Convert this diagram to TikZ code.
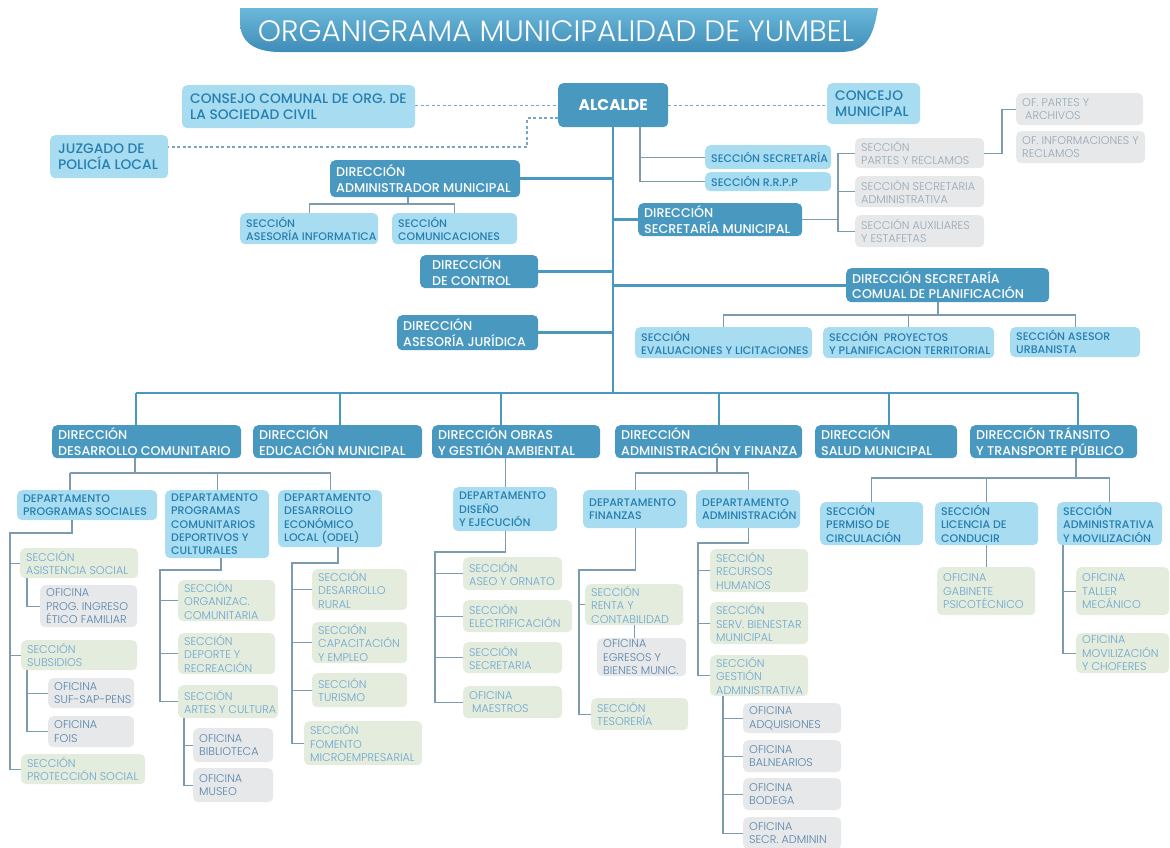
\documentclass[tikz,border=0pt]{standalone}
\usepackage{fontspec}
\setmainfont{Poppins}
\IfFontExistsTF{Poppins Light}{\newfontfamily\flight{Poppins Light}}{\newfontfamily\flight{Poppins}}
\IfFontExistsTF{Poppins Medium}{\newfontfamily\fmed{Poppins Medium}}{\newfontfamily\fmed{Poppins}}
\definecolor{dirblue}{RGB}{72,152,192}
\definecolor{lblue}{RGB}{168,220,240}
\definecolor{ltxt}{RGB}{38,126,176}
\definecolor{gfill}{RGB}{228,236,221}
\definecolor{gtxt}{RGB}{108,166,206}
\definecolor{grfill}{RGB}{230,232,234}
\definecolor{grtxt}{RGB}{150,168,182}
\definecolor{oftxt}{RGB}{88,132,170}
\definecolor{linec}{RGB}{125,155,175}
\definecolor{dashc}{RGB}{120,165,195}
\definecolor{bantop}{RGB}{108,184,218}
\definecolor{banbot}{RGB}{62,140,184}
\tikzset{
 boxbase/.style={inner sep=0pt, rounded corners=5pt, draw=none},
 dbox/.style={boxbase, fill=dirblue},
 dboxtxt/.style={inner sep=0pt, align=left, text=white, font=\fmed\fontsize{12.7}{15.5}\selectfont},
 tsec/.style={boxbase, fill=lblue},
 tsectxt/.style={inner sep=0pt, align=left, text=ltxt, xshift=2pt, font=\fmed\fontsize{13.8}{16}\selectfont},
 lsec/.style={boxbase, fill=lblue},
 lsectxt/.style={inner sep=0pt, align=left, text=ltxt, font=\fmed\fontsize{11}{13.3}\selectfont},
 gsec/.style={boxbase, fill=gfill},
 gsectxt/.style={inner sep=0pt, align=left, text=gtxt, font=\flight\fontsize{11.2}{13.3}\selectfont},
 gtop/.style={boxbase, fill=grfill},
 gtoptxt/.style={inner sep=0pt, align=left, text=grtxt, font=\flight\fontsize{11.2}{13.3}\selectfont},
 gof/.style={boxbase, fill=grfill},
 goftxt/.style={inner sep=0pt, align=left, text=oftxt, font=\flight\fontsize{11.2}{13.3}\selectfont},
 trunk/.style={draw=dirblue, line width=2.6pt},
 conn/.style={draw=linec, line width=1.1pt},
 dashln/.style={draw=dashc, line width=1.1pt, dash pattern=on 3pt off 2.5pt},
}
% name, x1, y1, x2, y2, style, text
\newcommand\BX[7]{%
 \pgfmathsetmacro\bxw{#4-#2}\pgfmathsetmacro\bxh{#5-#3}%
 \node[#6, anchor=north west, minimum width=\bxw pt, minimum height=\bxh pt] (#1) at (#2,#3) {};%
 \node[#6txt, anchor=west] (#1t) at ([xshift=6pt]#1.west) {#7};}
\begin{document}
\begin{tikzpicture}[x=1pt,y=-1pt]
\useasboundingbox (0,0) rectangle (1170,847);
% title banner
\shade[top color=bantop, bottom color=banbot] (240,8) -- (878,8) .. controls (873,38) and (866,52) .. (840,52) -- (280,52) .. controls (252,52) and (240,40) .. (240,22) -- cycle;
\node[text=white, font=\flight\fontsize{29.5}{32}\selectfont, inner sep=0pt] (title) at (556,31) {ORGANIGRAMA MUNICIPALIDAD DE YUMBEL};

% ---------- boxes ----------
\node[dbox, anchor=north west, minimum width=110pt, minimum height=44pt] (alc) at (558,83) {};
\node[text=white, font=\bfseries\fontsize{15.5}{18}\selectfont, inner sep=0pt] (alct) at (alc.center) {ALCALDE};
\BX{consejo}{182}{85}{415}{128}{tsec}{CONSEJO COMUNAL DE ORG. DE\\LA SOCIEDAD CIVIL}
\BX{concejo}{827}{83}{920}{124}{tsec}{CONCEJO\\MUNICIPAL}
\BX{juz}{50}{135}{168}{178}{tsec}{JUZGADO DE\\POLICÍA LOCAL}
\BX{ssec}{705}{145}{831}{169}{lsec}{SECCIÓN SECRETARÍA}
\BX{srrpp}{705}{172}{831}{191}{lsec}{SECCIÓN R.R.P.P}
\BX{dam}{330}{160}{520}{197}{dbox}{DIRECCIÓN\\ADMINISTRADOR MUNICIPAL}
\BX{sinf}{240}{213}{378}{244}{lsec}{SECCIÓN\\ASESORÍA INFORMATICA}
\BX{scom}{392}{213}{517}{244}{lsec}{SECCIÓN\\COMUNICACIONES}
\BX{dsm}{638}{203}{802}{236}{dbox}{DIRECCIÓN\\SECRETARÍA MUNICIPAL}
\BX{spart}{855}{138}{984}{168}{gtop}{SECCIÓN\\PARTES Y RECLAMOS}
\BX{ssadm}{855}{176}{984}{207}{gtop}{SECCIÓN SECRETARIA\\ADMINISTRATIVA}
\BX{saux}{855}{215}{984}{247}{gtop}{SECCIÓN AUXILIARES\\Y ESTAFETAS}
\BX{ofpa}{1016}{93}{1143}{125}{gtop}{OF. PARTES Y\\\hspace*{3pt}ARCHIVOS}
\BX{ofinf}{1016}{131}{1145}{163}{gtop}{OF. INFORMACIONES Y\\RECLAMOS}
\BX{dct}{420}{255}{538}{288}{dbox}{\hspace*{6pt}DIRECCIÓN\\\hspace*{6pt}DE CONTROL}
\BX{daj}{397}{315}{538}{350}{dbox}{DIRECCIÓN\\ASESORÍA JURÍDICA}
\BX{dscp}{846}{268}{1049}{302}{dbox}{DIRECCIÓN SECRETARÍA\\COMUAL DE PLANIFICACIÓN}
\BX{seval}{635}{327}{812}{358}{lsec}{SECCIÓN\\EVALUACIONES Y LICITACIONES}
\BX{sproy}{823}{327}{994}{358}{lsec}{SECCIÓN\ \ PROYECTOS\\Y PLANIFICACION TERRITORIAL}
\BX{surb}{1010}{327}{1140}{357}{lsec}{SECCIÓN ASESOR\\URBANISTA}

\BX{ddc}{52}{425}{241}{458}{dbox}{DIRECCIÓN\\DESARROLLO COMUNITARIO}
\BX{dem}{253}{425}{422}{458}{dbox}{DIRECCIÓN\\EDUCACIÓN MUNICIPAL}
\BX{doga}{432}{425}{600}{458}{dbox}{DIRECCIÓN OBRAS\\Y GESTIÓN AMBIENTAL}
\BX{daf}{615}{425}{802}{458}{dbox}{DIRECCIÓN\\ADMINISTRACIÓN Y FINANZA}
\BX{dsal}{815}{425}{957}{458}{dbox}{DIRECCIÓN\\SALUD MUNICIPAL}
\BX{dttp}{970}{425}{1137}{458}{dbox}{DIRECCIÓN TRÁNSITO\\Y TRANSPORTE PÚBLICO}

\BX{dps}{17}{490}{157}{520}{lsec}{DEPARTAMENTO\\PROGRAMAS SOCIALES}
\BX{dpc}{165}{490}{269}{558}{lsec}{DEPARTAMENTO\\PROGRAMAS\\COMUNITARIOS\\DEPORTIVOS Y\\CULTURALES}
\BX{dodel}{278}{490}{382}{547}{lsec}{DEPARTAMENTO\\DESARROLLO\\ECONÓMICO\\LOCAL (ODEL)}
\BX{ddis}{453}{487}{557}{531}{lsec}{DEPARTAMENTO\\DISEÑO\\Y EJECUCIÓN}
\BX{dfin}{583}{490}{687}{528}{lsec}{DEPARTAMENTO\\FINANZAS}
\BX{dadm}{696}{490}{800}{528}{lsec}{DEPARTAMENTO\\ADMINISTRACIÓN}
\BX{sperm}{820}{502}{923}{545}{lsec}{SECCIÓN\\PERMISO DE\\CIRCULACIÓN}
\BX{slic}{935}{502}{1038}{545}{lsec}{SECCIÓN\\LICENCIA DE\\CONDUCIR}
\BX{sadmv}{1057}{502}{1162}{545}{lsec}{SECCIÓN\\ADMINISTRATIVA\\Y MOVILIZACIÓN}

\BX{sasis}{20}{548}{138}{578}{gsec}{SECCIÓN\\ASISTENCIA SOCIAL}
\BX{oprog}{40}{585}{137}{627}{gof}{OFICINA\\PROG. INGRESO\\ÉTICO FAMILIAR}
\BX{ssub}{21}{640}{137}{670}{gsec}{SECCIÓN\\SUBSIDIOS}
\BX{osuf}{48}{678}{134}{708}{gof}{OFICINA\\SUF-SAP-PENS}
\BX{ofois}{48}{716}{134}{747}{gof}{OFICINA\\FOIS}
\BX{sprot}{21}{754}{145}{784}{gsec}{SECCIÓN\\PROTECCIÓN SOCIAL}
\BX{sorg}{178}{580}{275}{621}{gsec}{SECCIÓN\\ORGANIZAC.\\COMUNITARIA}
\BX{sdep}{178}{633}{275}{674}{gsec}{SECCIÓN\\DEPORTE Y\\RECREACIÓN}
\BX{sart}{178}{685}{278}{718}{gsec}{SECCIÓN\\ARTES Y CULTURA}
\BX{obib}{193}{728}{273}{762}{gof}{OFICINA\\BIBLIOTECA}
\BX{omus}{193}{768}{273}{802}{gof}{OFICINA\\MUSEO}
\BX{srur}{312}{569}{407}{610}{gsec}{SECCIÓN\\DESARROLLO\\RURAL}
\BX{scap}{312}{622}{407}{663}{gsec}{SECCIÓN\\CAPACITACIÓN\\Y EMPLEO}
\BX{stur}{312}{673}{407}{707}{gsec}{SECCIÓN\\TURISMO}
\BX{sfom}{304}{721}{422}{765}{gsec}{SECCIÓN\\FOMENTO\\MICROEMPRESARIAL}
\BX{saseo}{463}{557}{562}{590}{gsec}{SECCIÓN\\ASEO Y ORNATO}
\BX{selec}{463}{600}{572}{632}{gsec}{SECCIÓN\\ELECTRIFICACIÓN}
\BX{ssecr}{463}{642}{562}{673}{gsec}{SECCIÓN\\SECRETARIA}
\BX{omae}{463}{686}{562}{718}{gsec}{OFICINA\\\hspace*{3pt}MAESTROS}
\BX{sren}{585}{584}{683}{625}{gsec}{SECCIÓN\\RENTA Y\\CONTABILIDAD}
\BX{oegr}{597}{638}{686}{676}{gof}{OFICINA\\EGRESOS Y\\BIENES MUNIC.}
\BX{ste}{591}{698}{688}{730}{gsec}{SECCIÓN\\TESORERÍA}
\BX{srh}{710}{549}{808}{592}{gsec}{SECCIÓN\\RECURSOS\\HUMANOS}
\BX{sbien}{710}{602}{808}{644}{gsec}{SECCIÓN\\SERV. BIENESTAR\\MUNICIPAL}
\BX{sgest}{710}{655}{808}{696}{gsec}{SECCIÓN\\GESTIÓN\\ADMINISTRATIVA}
\BX{oadq}{743}{703}{841}{733}{gof}{OFICINA\\ADQUISIONES}
\BX{obal}{743}{740}{841}{772}{gof}{OFICINA\\BALNEARIOS}
\BX{obod}{743}{778}{841}{810}{gof}{OFICINA\\BODEGA}
\BX{osecr}{743}{817}{841}{849}{gof}{OFICINA\\SECR. ADMININ}
\BX{ogab}{937}{567}{1035}{615}{gsec}{OFICINA\\GABINETE\\PSICOTÉCNICO}
\BX{otal}{1076}{567}{1169}{615}{gsec}{OFICINA\\TALLER\\MECÁNICO}
\BX{omov}{1076}{633}{1169}{673}{gsec}{OFICINA\\MOVILIZACIÓN\\Y CHOFERES}

% ---------- coordinates ----------
\coordinate (bus) at (613,393);
\coordinate (jddc) at (136,393);
\coordinate (jdem) at (340,393);
\coordinate (jdoga) at (501,393);
\coordinate (jdaf) at (719,393);
\coordinate (jdsal) at (889,393);
\coordinate (jdttp) at (1078,393);
\coordinate (dj1) at (527,118);
\coordinate (dj2) at (527,147);
\coordinate (sx) at (640,0);
\coordinate (damj) at (408,204);
\coordinate (smx) at (838,0);
\coordinate (ofx) at (1002,0);
\coordinate (pj) at (938,315);
\coordinate (dcj) at (135,473);
\coordinate (dpsx) at (70,473);
\coordinate (psA) at (72,533);
\coordinate (psB) at (10,533);
\coordinate (asx) at (27,0);
\coordinate (pcA) at (221,570);
\coordinate (pcB) at (160,570);
\coordinate (arx) at (184,0);
\coordinate (odA) at (338,563);
\coordinate (odB) at (292,563);
\coordinate (ogA) at (435,552);
\coordinate (afj) at (717,473);
\coordinate (fiA) at (579,570);
\coordinate (adA) at (698,543);
\coordinate (gsx) at (723,0);
\coordinate (ttj) at (1076,478);
\coordinate (smx2) at (1063,0);

% ---------- connectors ----------
\draw[dashln] (consejo.east |- alc.west) -- (alc.west);
\draw[dashln] (alc.west |- dj1) -- (dj1) -- (dj2) -- (juz.east |- dj2);
\draw[dashln] (alc.east) -- (alc.east -| concejo.west);

\draw[trunk] (alc.south -| bus) -- (bus);
\draw[trunk] (dam.east) -- (dam.east -| bus);
\draw[trunk] (dsm.west) -- (dsm.west -| bus);
\draw[trunk] (dct.east) -- (dct.east -| bus);
\draw[trunk] (daj.east) -- (daj.east -| bus);
\draw[trunk] (dscp.west) -- (dscp.west -| bus);
\draw[trunk] (jddc) -- (jdttp);
\draw[trunk] (jddc) -- (jddc |- ddc.north);
\draw[trunk] (jdem) -- (jdem |- dem.north);
\draw[trunk] (jdoga) -- (jdoga |- doga.north);
\draw[trunk] (jdaf) -- (jdaf |- daf.north);
\draw[trunk] (jdsal) -- (jdsal |- dsal.north);
\draw[trunk] (jdttp) -- (jdttp |- dttp.north);

\draw[conn] (alc.south -| sx) |- (srrpp.west);
\draw[conn] (sx |- ssec.west) -- (ssec.west);
\draw[conn] (dam.south -| damj) -- (damj);
\draw[conn] (sinf.north) |- (damj) -| (scom.north);
\draw[conn] (dsm.east) -- (dsm.east -| smx);
\draw[conn] (spart.west) -| (smx |- saux.west) -- (saux.west);
\draw[conn] (ssadm.west) -- (ssadm.west -| smx);
\draw[conn] (spart.east) -| (ofx |- ofpa.west) -- (ofpa.west);
\draw[conn] (dscp.south -| pj) -- (pj);
\draw[conn] (seval.north) |- (pj) -| (surb.north);
\draw[conn] (sproy.north) -- (sproy.north |- pj);

\draw[conn] (ddc.south -| dcj) -- (dcj);
\draw[conn] (dpsx) -- (dpsx |- dps.north);
\draw[conn] (dpsx) -| (dodel.north);
\draw[conn] (dpc.north) -- (dpc.north |- dpsx);
\draw[conn] (dps.south -| psA) -- (psA) -- (psB) |- (sprot.west);
\draw[conn] (sasis.west) -- (sasis.west -| psB);
\draw[conn] (ssub.west) -- (ssub.west -| psB);
\draw[conn] (sasis.south -| asx) |- (oprog.west);
\draw[conn] (ssub.south -| asx) |- (ofois.west);
\draw[conn] (osuf.west) -- (osuf.west -| asx);
\draw[conn] (dpc.south -| pcA) -- (pcA) -- (pcB) |- (sart.west);
\draw[conn] (sorg.west) -- (sorg.west -| pcB);
\draw[conn] (sdep.west) -- (sdep.west -| pcB);
\draw[conn] (sart.south -| arx) |- (omus.west);
\draw[conn] (obib.west) -- (obib.west -| arx);
\draw[conn] (dodel.south -| odA) -- (odA) -- (odB) |- (sfom.west);
\draw[conn] (srur.west) -- (srur.west -| odB);
\draw[conn] (scap.west) -- (scap.west -| odB);
\draw[conn] (stur.west) -- (stur.west -| odB);

\draw[conn] (ddis.north) -- (ddis.north |- doga.south);
\draw[conn] (ddis.south) |- (ogA) |- (omae.west);
\draw[conn] (saseo.west) -- (saseo.west -| ogA);
\draw[conn] (selec.west) -- (selec.west -| ogA);
\draw[conn] (ssecr.west) -- (ssecr.west -| ogA);

\draw[conn] (daf.south -| afj) -- (afj);
\draw[conn] (dfin.north) |- (afj) -| (dadm.north);
\draw[conn] (dfin.south) |- (fiA) |- (ste.west);
\draw[conn] (sren.west) -- (sren.west -| fiA);
\draw[conn] (sren.south) -- (sren.south |- oegr.north);
\draw[conn] (dadm.south) |- (adA) |- (sgest.west);
\draw[conn] (srh.west) -- (srh.west -| adA);
\draw[conn] (sbien.west) -- (sbien.west -| adA);
\draw[conn] (sgest.south -| gsx) |- (osecr.west);
\draw[conn] (oadq.west) -- (oadq.west -| gsx);
\draw[conn] (obal.west) -- (obal.west -| gsx);
\draw[conn] (obod.west) -- (obod.west -| gsx);

\draw[conn] (dttp.south -| ttj) -- (ttj);
\draw[conn] (sperm.north) |- (ttj) -| (sadmv.north);
\draw[conn] (slic.north) -- (slic.north |- ttj);
\draw[conn] (slic.south) -- (slic.south |- ogab.north);
\draw[conn] (sadmv.south -| smx2) |- (omov.west);
\draw[conn] (otal.west) -- (otal.west -| smx2);
\end{tikzpicture}
\end{document}
